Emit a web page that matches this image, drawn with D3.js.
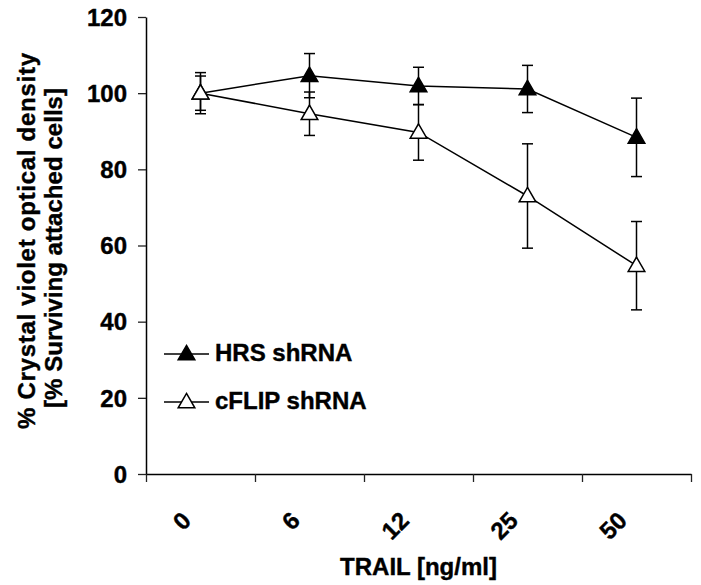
<!DOCTYPE html>
<html>
<head>
    <title>TRAIL survival</title>
    <script src="https://d3js.org/d3.v7.min.js"></script>
    <style>
        body {
            margin: 0;
            background: #fff;
        }
        text {
            font-family: "Liberation Sans", Arial, sans-serif;
            font-weight: bold;
            fill: #000;
            stroke: #000;
            stroke-width: 0.4px;
        }
    </style>
</head>
<body>
    <div id="chart"></div>
    <script>
        // values
        const categories = ["0", "6", "12", "25", "50"];
        const hrsMean = [100, 104.6, 101.9, 101.1, 88.4];
        const hrsErr = [5.4, 5.8, 4.9, 6.2, 10.3];
        const cflipMean = [100, 94.6, 89.7, 73.0, 54.7];
        const cflipErr = [4.5, 5.7, 7.3, 13.7, 11.6];
        const yTicks = [0, 20, 40, 60, 80, 100, 120];

        const width = 701, height = 585;
        const plotLeft = 146, plotRight = 691, plotTop = 17, plotBottom = 474;

        const svg = d3.select("#chart")
            .append("svg")
            .attr("width", width)
            .attr("height", height);

        const x = d3.scaleBand()
            .domain(categories)
            .range([plotLeft, plotRight])
            .padding(0);

        // edges of the category bands, for the tick marks
        const edge = d3.scaleLinear()
            .domain([0, categories.length])
            .range([plotLeft, plotRight]);

        const y = d3.scaleLinear()
            .domain([0, 120])
            .range([plotBottom, plotTop]);

        // y axis
        const yAxis = svg.append("g")
            .attr("transform", `translate(${plotLeft},0)`)
            .call(d3.axisLeft(y).tickValues(yTicks).tickSize(8).tickSizeOuter(0).tickPadding(11));
        yAxis.select(".domain").attr("stroke", "#000").attr("stroke-width", 1.5);
        yAxis.selectAll(".tick line").attr("stroke", "#222").attr("stroke-width", 1.3);
        yAxis.selectAll(".tick text")
            .style("font-size", "24px")
            .attr("dy", "0.34em")
            .attr("fill", "#000");

        // x axis (ticks on band edges, labels rotated at band centres)
        const xAxis = svg.append("g")
            .attr("transform", `translate(0,${plotBottom})`)
            .call(d3.axisBottom(edge).ticks(categories.length).tickFormat("").tickSize(8).tickSizeOuter(0));
        xAxis.select(".domain").attr("stroke", "#000").attr("stroke-width", 1.5);
        xAxis.selectAll(".tick line").attr("stroke", "#222").attr("stroke-width", 1.3);

        svg.append("g")
            .selectAll("text")
            .data(categories)
            .enter()
            .append("text")
            .attr("text-anchor", "end")
            .attr("transform", d => `translate(${x(d) + x.bandwidth() / 2 - 8},${plotBottom + 48}) rotate(-45)`)
            .style("font-size", "24px")
            .text(d => d);

        // axis titles
        svg.append("text")
            .attr("x", (plotLeft + plotRight) / 2)
            .attr("y", 575)
            .attr("text-anchor", "middle")
            .style("font-size", "24px")
            .text("TRAIL [ng/ml]");

        // two-line y title, each line stretched to the reference length
        svg.append("text")
            .attr("transform", "translate(35,241) rotate(-90)")
            .attr("text-anchor", "middle")
            .attr("textLength", 376)
            .attr("lengthAdjust", "spacing")
            .style("font-size", "24px")
            .text("% Crystal violet optical density");
        svg.append("text")
            .attr("transform", "translate(62,248) rotate(-90)")
            .attr("text-anchor", "middle")
            .attr("textLength", 320)
            .attr("lengthAdjust", "spacing")
            .style("font-size", "24px")
            .text("[% Surviving attached cells]");

        const series = [
            { name: "HRS shRNA", mean: hrsMean, err: hrsErr, fill: "#000" },
            { name: "cFLIP shRNA", mean: cflipMean, err: cflipErr, fill: "#fff" }
        ];

        const cx = i => x(categories[i]) + x.bandwidth() / 2;
        const tri = d3.symbol().type(d3.symbolTriangle).size(120);
        const capW = 11;

        // error bars first, then lines, then markers
        series.forEach(s => {
            const g = svg.append("g").attr("stroke", "#000").attr("stroke-width", 1.5);
            s.mean.forEach((m, i) => {
                const hi = y(m + s.err[i]), lo = y(m - s.err[i]);
                g.append("line").attr("x1", cx(i)).attr("x2", cx(i)).attr("y1", hi).attr("y2", lo);
                g.append("line").attr("x1", cx(i) - capW / 2).attr("x2", cx(i) + capW / 2).attr("y1", hi).attr("y2", hi);
                g.append("line").attr("x1", cx(i) - capW / 2).attr("x2", cx(i) + capW / 2).attr("y1", lo).attr("y2", lo);
            });
        });

        const line = d3.line()
            .x((d, i) => cx(i))
            .y(d => y(d));

        series.forEach(s => {
            svg.append("path")
                .datum(s.mean)
                .attr("d", line)
                .attr("fill", "none")
                .attr("stroke", "#000")
                .attr("stroke-width", 1.5);
        });

        series.forEach(s => {
            svg.append("g")
                .selectAll("path")
                .data(s.mean)
                .enter()
                .append("path")
                .attr("d", tri)
                .attr("transform", (d, i) => `translate(${cx(i)},${y(d) + 1})`)
                .attr("fill", s.fill)
                .attr("stroke", "#000")
                .attr("stroke-width", 1.5);
        });

        // legend
        const legend = svg.append("g");
        series.forEach((s, i) => {
            const ly = 354 + i * 48;
            legend.append("line")
                .attr("x1", 164).attr("x2", 209)
                .attr("y1", ly).attr("y2", ly)
                .attr("stroke", "#000").attr("stroke-width", 1.5);
            legend.append("path")
                .attr("d", tri)
                .attr("transform", `translate(186.5,${ly + 1})`)
                .attr("fill", s.fill)
                .attr("stroke", "#000")
                .attr("stroke-width", 1.5);
            legend.append("text")
                .attr("x", 215)
                .attr("y", ly + 7)
                .style("font-size", "24px")
                .text(s.name);
        });
    </script>
</body>
</html>
